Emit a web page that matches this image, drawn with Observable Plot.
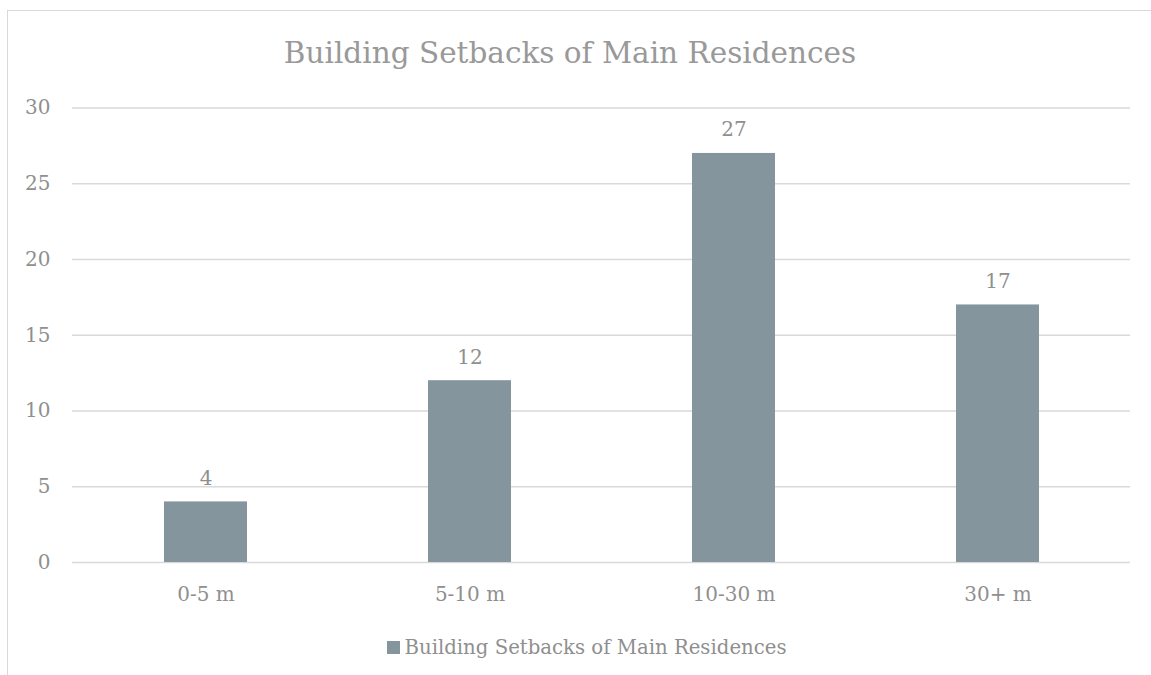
<!DOCTYPE html>
<html>
<head>
<meta charset="utf-8">
<script src="https://cdn.jsdelivr.net/npm/d3@7"></script>
<script src="https://cdn.jsdelivr.net/npm/@observablehq/plot@0.6"></script>
<style>
  html, body { margin: 0; padding: 0; background: #fff; overflow: hidden; }
  body { width: 1151px; height: 675px; position: relative; font-family: "DejaVu Serif", serif; color: #8f8f8f; }
  #frame { position: absolute; left: 7px; top: 10px; width: 1160px; height: 700px; border: 1px solid #d9d9d9; box-sizing: border-box; pointer-events: none; }
  #title { position: relative; width: 1140px; text-align: center; font-size: 29.5px; line-height: 31px; padding-top: 38px; height: 31px; margin-bottom: 19px; color: #999; }
  #chart { position: relative; height: 532px; }
  #legend { position: relative; width: 1140px; padding-left: 34px; box-sizing: border-box; height: 55px; display: flex; align-items: center; justify-content: center; font-size: 19.7px; color: #8f8f8f; }
  #legend .sw { width: 13px; height: 13px; background: #85959e; margin-right: 4px; }
</style>
</head>
<body>
<div id="frame"></div>
<div id="title">Building Setbacks of Main Residences</div>
<div id="chart"></div>
<div id="legend"><span class="sw"></span><span>Building Setbacks of Main Residences</span></div>
<script>
const categories = ["0-5 m", "5-10 m", "10-30 m", "30+ m"];
const values = [4, 12, 27, 17];
const yTicks = [0, 5, 10, 15, 20, 25, 30];

const data = categories.map((c, i) => ({category: c, value: values[i]}));
const barColor = "#85959e";
const textColor = "#8f8f8f";

const chart = Plot.plot({
  width: 1151,
  height: 532,
  marginTop: 19.5,
  marginBottom: 58,
  marginLeft: 72,
  marginRight: 21,
  style: {fontFamily: "DejaVu Serif, serif", fontSize: "20px", color: textColor, background: "transparent"},
  x: {type: "band", domain: categories, paddingInner: 0.686, paddingOuter: 0.343, label: null, tickSize: 0, tickPadding: 24},
  y: {domain: [0, 30], ticks: yTicks, label: null, tickSize: 0, tickPadding: 22},
  marks: [
    Plot.ruleY(yTicks, {stroke: "#d9d9d9", strokeWidth: 1.3}),
    Plot.barY(data, {x: "category", y: "value", fill: barColor}),
    Plot.text(data, {x: "category", y: "value", text: d => String(d.value), lineAnchor: "bottom", dy: -17, fill: textColor, fontSize: 20})
  ]
});
document.getElementById("chart").appendChild(chart);
</script>
</body>
</html>
